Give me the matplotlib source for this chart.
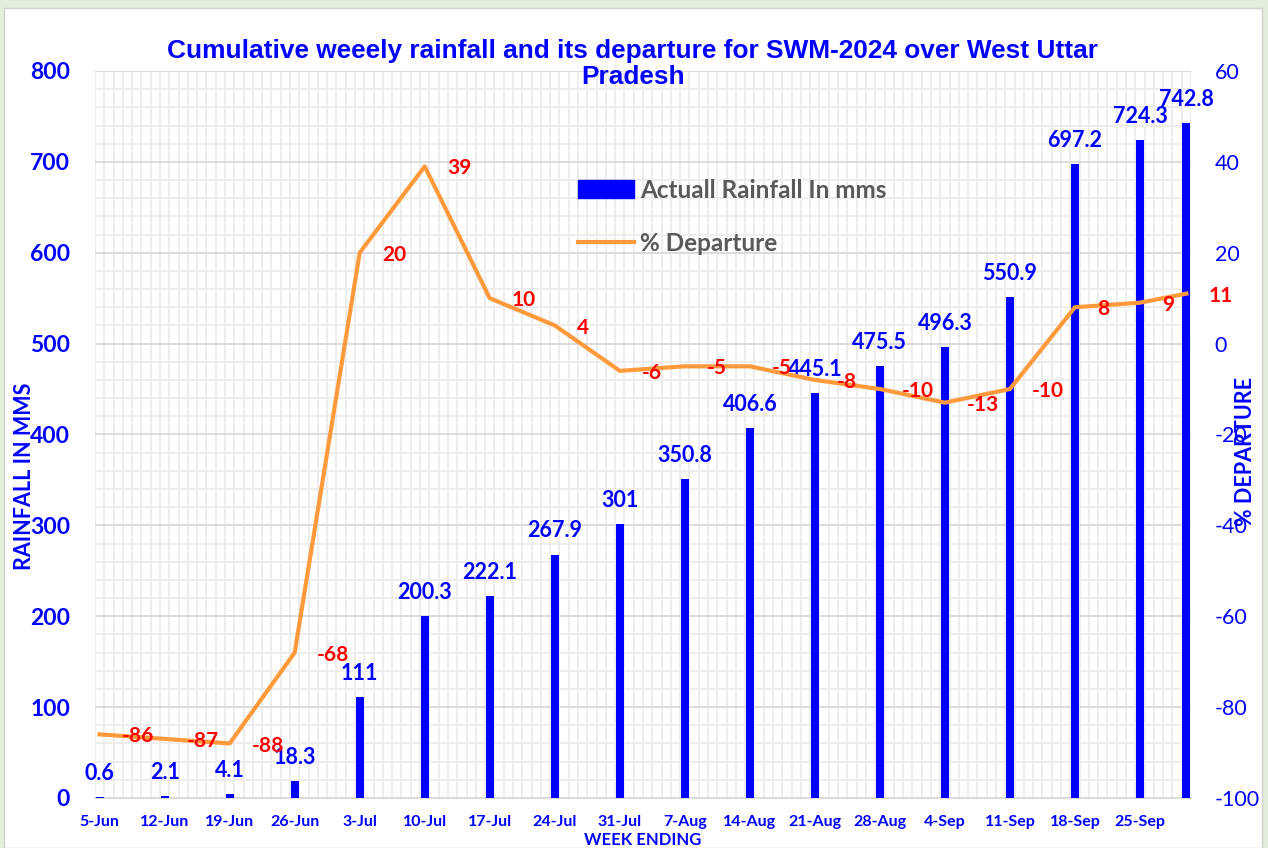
import numpy as np
import pandas as pd
import matplotlib
matplotlib.use('Agg')
import matplotlib.pyplot as plt
from matplotlib import font_manager
from matplotlib.patches import Patch, Rectangle
from matplotlib.lines import Line2D
from matplotlib.ticker import MultipleLocator

# week ending dates (last value is end of season, 30-Sep)
week_ending = ['5-Jun', '12-Jun', '19-Jun', '26-Jun', '3-Jul', '10-Jul', '17-Jul',
               '24-Jul', '31-Jul', '7-Aug', '14-Aug', '21-Aug', '28-Aug', '4-Sep',
               '11-Sep', '18-Sep', '25-Sep', '30-Sep']
rainfall = [0.6, 2.1, 4.1, 18.3, 111, 200.3, 222.1, 267.9, 301, 350.8, 406.6,
            445.1, 475.5, 496.3, 550.9, 697.2, 724.3, 742.8]
departure = [-86, -87, -88, -68, 20, 39, 10, 4, -6, -5, -5, -8, -10, -13, -10, 8, 9, 11]
tick_labels = week_ending[:-1]

dates = pd.to_datetime([d + '-2024' for d in week_ending], format='%d-%b-%Y')
days = (dates - dates[0]).days.to_numpy()

plt.rcParams['axes.unicode_minus'] = False

installed = {f.name for f in font_manager.fontManager.ttflist}
body = 'Lato' if 'Lato' in installed else 'DejaVu Sans'
title_font = 'Liberation Sans Narrow' if 'Liberation Sans Narrow' in installed else 'Liberation Sans'

BLUE = '#0000ff'
RED = '#ff0000'
ORANGE = '#ff9a3c'

fig = plt.figure(figsize=(12.68, 8.48), dpi=100, facecolor='#e2efda')
fig.patches.append(Rectangle((4 / 1268, 0), 1258 / 1268, 840 / 848,
                             transform=fig.transFigure, facecolor='white',
                             edgecolor='#d0d0d0', lw=1, zorder=-1))

ax = fig.add_axes([0.0749, 0.0590, 0.8644, 0.8573])
ax.set_facecolor('white')

# bars - cumulative rainfall
ax.bar(days, rainfall, width=0.85, color=BLUE, zorder=3)
ax.set_xlim(-0.5, days[-1] + 0.5)
ax.set_ylim(0, 800)
ax.yaxis.set_major_locator(MultipleLocator(100))
ax.yaxis.set_minor_locator(MultipleLocator(20))
ax.set_xticks(np.arange(-0.5, days[-1] + 1, 1), minor=True)
ax.set_xticks(days[:-1])
ax.set_xticklabels(tick_labels)
ax.grid(which='minor', color='#ececec', lw=1.3, zorder=0)
ax.grid(which='major', axis='y', color='#d9d9d9', lw=1.3, zorder=0)
ax.set_axisbelow(True)
ax.tick_params(which='both', length=0)
ax.tick_params(axis='x', pad=12, labelsize=11.5, labelcolor=BLUE)
ax.tick_params(axis='y', pad=18, labelsize=16.5, labelcolor=BLUE)
for lab in ax.get_xticklabels() + ax.get_yticklabels():
    lab.set_fontweight('bold')
    lab.set_fontfamily(body)
for s in ['top', 'left', 'right']:
    ax.spines[s].set_visible(False)
ax.spines['bottom'].set_color('#d9d9d9')
ax.spines['bottom'].set_linewidth(1.3)

for x, v in zip(days, rainfall):
    ax.annotate(f'{v:g}', (x, v), xytext=(0, 17), textcoords='offset points',
                ha='center', va='center', color=BLUE, fontsize=15.5,
                fontweight='bold', fontfamily=body, zorder=5)

# line - % departure on secondary axis
ax2 = ax.twinx()
ax2.plot(days, departure, color=ORANGE, lw=3, solid_joinstyle='round', zorder=4)
ax2.set_ylim(-100, 60)
ax2.yaxis.set_major_locator(MultipleLocator(20))
ax2.tick_params(which='both', length=0, pad=17, labelsize=15.5, labelcolor=BLUE)
for lab in ax2.get_yticklabels():
    lab.set_fontfamily(body)
for s in ax2.spines.values():
    s.set_visible(False)

for x, v in zip(days, departure):
    ax2.annotate(str(v), (x, v), xytext=(16, -1.5), textcoords='offset points',
                 ha='left', va='center', color=RED, fontsize=15,
                 fontweight='bold', fontfamily=body, zorder=6)

handles = [Patch(facecolor=BLUE, edgecolor=BLUE), Line2D([], [], color=ORANGE, lw=3)]
ax2.legend(handles, ['Actuall Rainfall In mms', '% Departure'], loc='upper left',
           bbox_to_anchor=(0.4407, 0.852), frameon=False,
           prop=dict(family=body, weight='bold', size=17.5), labelcolor='#595959',
           handlelength=2.3, handleheight=0.75, handletextpad=0.25,
           labelspacing=1.25, borderpad=0, borderaxespad=0)

title = fig.text(0.4992, 1 - 64 / 848,
                 'Cumulative weeely rainfall and its departure for SWM-2024 over West Uttar\nPradesh',
                 ha='center', va='center', color=BLUE, fontsize=22, fontweight='bold',
                 fontfamily=title_font, linespacing=1.15)
fig.canvas.draw()
w = title.get_window_extent().width
if w > 930:
    title.set_fontsize(22 * 930 / w)

fig.text(25 / 1268, 1 - 476 / 848, 'RAINFALL IN MMS', rotation=90, ha='center',
         va='center', color=BLUE, fontsize=15.5, fontweight='bold', fontfamily=body)
fig.text(1245 / 1268, 1 - 452 / 848, '% DEPARTURE', rotation=90, ha='center',
         va='center', color=BLUE, fontsize=15.5, fontweight='bold', fontfamily=body)
fig.text(643 / 1268, 1 - 840 / 848, 'WEEK ENDING', ha='center', va='center',
         color=BLUE, fontsize=12, fontweight='bold', fontfamily=body)

fig.savefig('out.png', dpi=100, facecolor=fig.get_facecolor())
